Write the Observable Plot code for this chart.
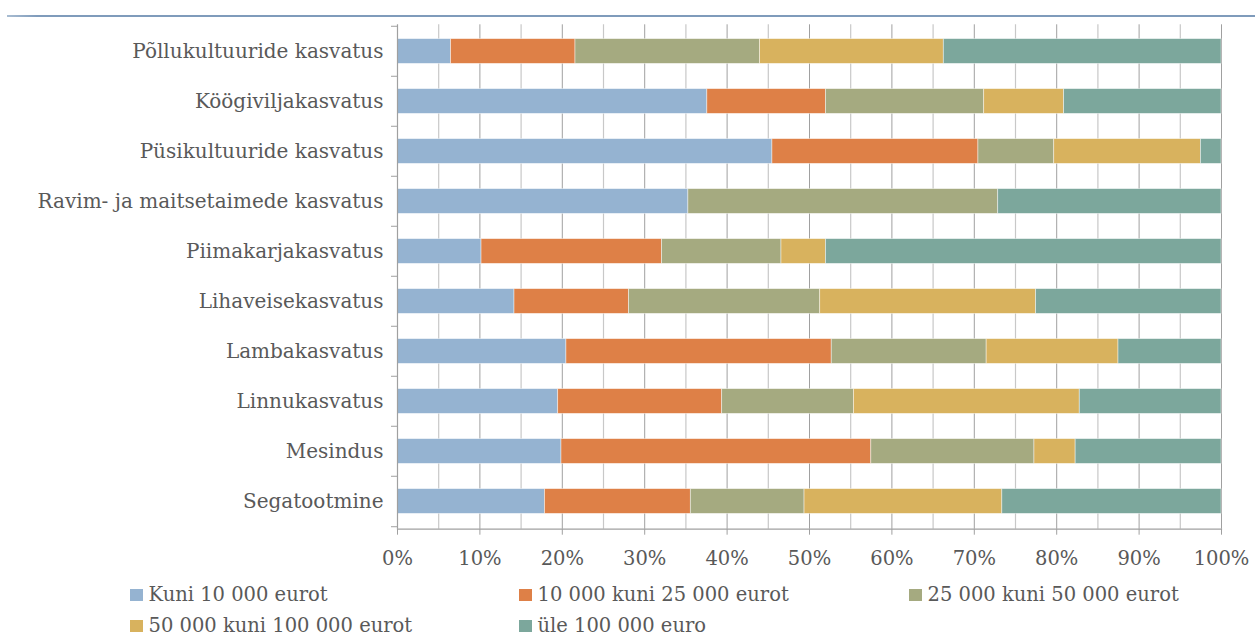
<!DOCTYPE html>
<html>
<head>
<meta charset="utf-8">
<script src="https://cdn.jsdelivr.net/npm/d3@7"></script>
<script src="https://cdn.jsdelivr.net/npm/@observablehq/plot@0.6"></script>
<style>
  html, body { margin: 0; padding: 0; background: #fff; }
  #page { position: relative; width: 1255px; height: 637px; overflow: hidden; font-family: "DejaVu Serif", serif; color: #595959; }
  #topline { position: absolute; left: 7px; top: 15px; width: 1248px; height: 2px; background: linear-gradient(to right, #a9bdd2 0px, #7f9bbb 30px, #7f9bbb 100%); }
  #chart { position: absolute; left: 0; top: 20px; }
  .leg { position: absolute; display: flex; align-items: center; font-size: 19.5px; white-space: nowrap; line-height: 22px; }
  .leg span.sw { display: inline-block; width: 12.5px; height: 12.5px; margin-right: 6px; flex: none; }
</style>
</head>
<body>
<div id="page">
  <div id="topline"></div>
  <div id="chart"></div>
  <div id="legend"></div>
</div>
<script>
// Categories (top to bottom)
const categories = [
  "Põllukultuuride kasvatus",
  "Köögiviljakasvatus",
  "Püsikultuuride kasvatus",
  "Ravim- ja maitsetaimede kasvatus",
  "Piimakarjakasvatus",
  "Lihaveisekasvatus",
  "Lambakasvatus",
  "Linnukasvatus",
  "Mesindus",
  "Segatootmine"
];
// Series names
const seriesNames = [
  "Kuni 10 000 eurot",
  "10 000 kuni 25 000 eurot",
  "25 000 kuni 50 000 eurot",
  "50 000 kuni 100 000 eurot",
  "üle 100 000 euro"
];
// Series values (% per category, same order as categories)
const kuni10000      = [6.5, 37.6, 45.5, 35.3, 10.2, 14.2, 20.5, 19.5, 19.9, 17.9];
const from10to25     = [15.1, 14.4, 25.0, 0.0, 21.9, 13.9, 32.2, 19.9, 37.6, 17.7];
const from25to50     = [22.4, 19.2, 9.2, 37.6, 14.5, 23.2, 18.8, 16.0, 19.8, 13.8];
const from50to100    = [22.3, 9.7, 17.8, 0.0, 5.4, 26.2, 16.0, 27.4, 5.0, 24.0];
const ule100000      = [33.7, 19.1, 2.5, 27.1, 48.0, 22.5, 12.5, 17.2, 17.7, 26.6];
const seriesColors   = ["#95b3d1", "#de8047", "#a5aa80", "#d8b25e", "#7ca79c"];
// Axis ticks
const xTicks = [0, 10, 20, 30, 40, 50, 60, 70, 80, 90, 100];
const gridMinor = [5, 15, 25, 35, 45, 55, 65, 75, 85, 95];

const seriesValues = [kuni10000, from10to25, from25to50, from50to100, ule100000];
const data = [];
categories.forEach((c, i) => {
  seriesNames.forEach((s, j) => {
    data.push({category: c, series: s, value: seriesValues[j][i]});
  });
});

const W = 1255, H = 555;
const mTop = 4.3, mBottom = 46.3, mLeft = 397, mRight = 34;
const step = (H - mTop - mBottom) / categories.length;
const font = '"DejaVu Serif", serif';

const chart = Plot.plot({
  width: W,
  height: H,
  marginTop: mTop,
  marginBottom: mBottom,
  marginLeft: mLeft,
  marginRight: mRight,
  style: {fontFamily: font, fontSize: "19.5px", color: "#595959", background: "transparent", overflow: "visible"},
  x: {domain: [0, 100]},
  y: {domain: categories, padding: 0},
  color: {domain: seriesNames, range: seriesColors},
  marks: [
    Plot.ruleX(gridMinor, {stroke: "#c8c8c8", strokeWidth: 1.2}),
    Plot.ruleX(xTicks.slice(1), {stroke: "#a0a0a0", strokeWidth: 1}),
    Plot.barX(data, {
      y: "category", x: "value", fill: "series", order: seriesNames,
      insetTop: step * 0.25, insetBottom: step * 0.25,
      stroke: "#ffffff", strokeWidth: 0.8, strokeOpacity: 0.55
    }),
    Plot.ruleX([0], {stroke: "#a0a0a0", strokeWidth: 1.2}),
    Plot.frame({anchor: "bottom", stroke: "#a0a0a0", strokeWidth: 1.2}),
    Plot.axisX(xTicks, {
      tickSize: 6, tickPadding: 16, stroke: "#a0a0a0", fill: "#595959",
      tickFormat: d => d + "%", fontSize: 19.5, label: null
    }),
    Plot.axisY(categories, {
      tickSize: 6, stroke: "#a0a0a0", text: null, dy: -step / 2, label: null
    }),
    Plot.axisY(categories.slice(-1), {
      tickSize: 6, stroke: "#a0a0a0", text: null, dy: step / 2, label: null
    }),
    Plot.axisY(categories, {
      tickSize: 0, tickPadding: 14, fill: "#595959", fontSize: 20, label: null
    })
  ]
});
document.getElementById("chart").appendChild(chart);

// Legend (HTML, below the SVG)
const legendPos = [
  {left: 130, top: 595}, {left: 519, top: 595}, {left: 909, top: 595},
  {left: 130, top: 626}, {left: 519, top: 626}
];
const legend = document.getElementById("legend");
seriesNames.forEach((s, i) => {
  const d = document.createElement("div");
  d.className = "leg";
  d.style.left = legendPos[i].left + "px";
  d.style.top = (legendPos[i].top - 11) + "px";
  d.style.height = "22px";
  const sw = document.createElement("span");
  sw.className = "sw";
  sw.style.background = seriesColors[i];
  const t = document.createElement("span");
  t.textContent = s;
  d.appendChild(sw);
  d.appendChild(t);
  legend.appendChild(d);
});
</script>
</body>
</html>
